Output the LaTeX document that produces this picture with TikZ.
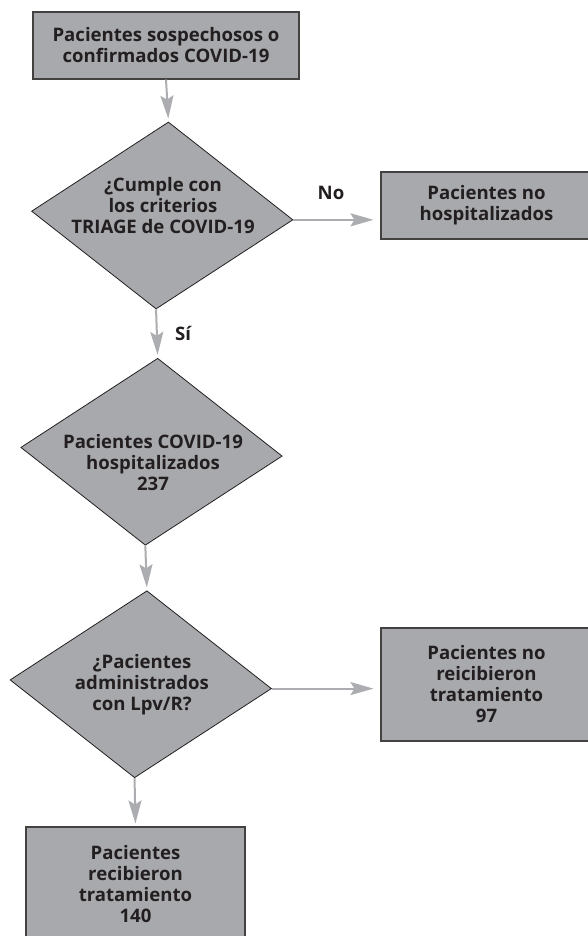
\documentclass[tikz,border=0pt]{standalone}
\usepackage{fontspec}
\setmainfont{Open Sans}
\usetikzlibrary{arrows.meta}
\usetikzlibrary{shapes.geometric}
\definecolor{boxgray}{RGB}{167,169,172}
\definecolor{arrgray}{RGB}{172,173,177}
\definecolor{inkdark}{RGB}{35,31,32}

\begin{document}
\begin{tikzpicture}[x=1pt,y=-1pt,
    box/.style={draw=inkdark!85, line width=1.1pt, fill=boxgray, inner sep=0pt},
    dia/.style={diamond, draw=inkdark, line width=0.8pt, fill=boxgray, inner sep=0pt,
        minimum width=262pt, minimum height=187pt, xslant=0.066, yslant=-0.033},
    txt/.style={text=inkdark, align=center, font=\fontsize{18.6}{21}\selectfont\bfseries},
    arr/.style={draw=arrgray, line width=2pt, -{Stealth[length=23pt,width=13pt,inset=4pt]}, shorten >=3pt}]
    \useasboundingbox (0,0) rectangle (588,936);

    \node[box, txt, minimum width=266pt, minimum height=67pt] (sosp) at (166,45.5) {Pacientes sospechosos o\\confirmados COVID-19};
    \node[dia] (criterio) at (162.25,215.5) {};
    \node[txt] (criteriot) at (163,206) {¿Cumple con\\los criterios\\TRIAGE de COVID-19};
    \node[box, txt, minimum width=211pt, minimum height=67pt] (nohosp) at (486.5,205.5) {Pacientes no\\hospitalizados};
    \node[dia] (hosp) at (151.5,451.75) {};
    \node[txt] (hospt) at (153,463) {Pacientes COVID-19\\hospitalizados\\237};
    \node[dia] (lpv) at (140.75,684.25) {};
    \node[txt] (lpvt) at (142,685) {¿Pacientes\\administrados\\con Lpv/R?};
    \node[box, txt, minimum width=211pt, minimum height=113pt] (notrat) at (486.5,684.5) {Pacientes no\\reicibieron\\tratamiento\\97};
    \node[box, txt, minimum width=219pt, minimum height=115pt] (trat) at (135.5,884.5) {Pacientes\\recibieron\\tratamiento\\140};

    \draw[arr] (sosp.south) -- (criterio.north);
    \draw[arr, shorten >=7pt] (criterio.east) -- (criterio.east -| nohosp.west);
    \node[txt] (lblno) at (331,193) {No};
    \draw[arr] (criterio.south) -- (hosp.north);
    \node[txt] (lblsi) at (183,333) {Sí};
    \draw[arr] (hosp.south) -- (lpv.north);
    \draw[arr, shorten >=7pt] (lpv.east) -- (lpv.east -| notrat.west);
    \draw[arr] (lpv.south) -- (trat.north);
\end{tikzpicture}
\end{document}
